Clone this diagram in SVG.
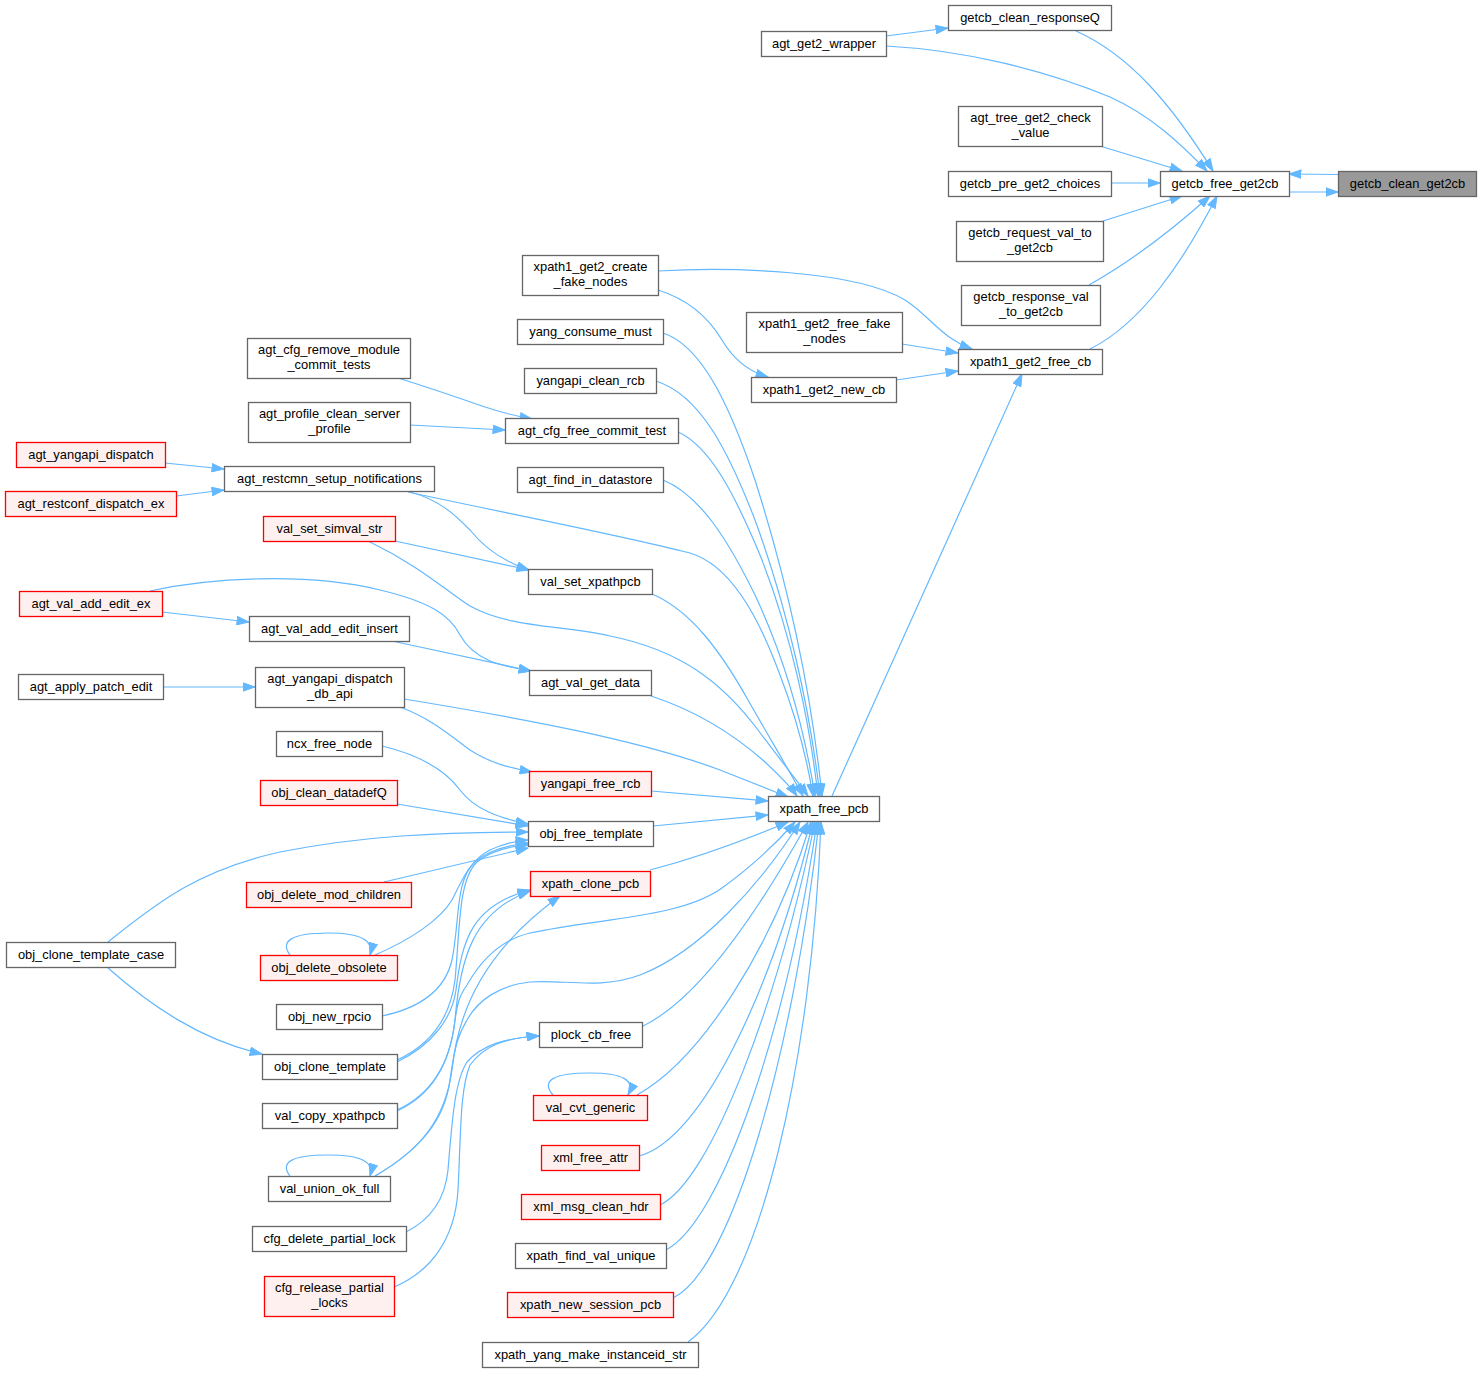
<svg xmlns="http://www.w3.org/2000/svg" width="1481" height="1373" viewBox="0 0 1481 1373">
<style>
.n rect{fill:#ffffff;stroke:#666666;stroke-width:1.3}
.r rect{fill:#fff0f0;stroke:#ff0000;stroke-width:1.3}
.root rect{fill:#999999;stroke:#666666;stroke-width:1.3}
text{font-family:"Liberation Sans",Arial,Helvetica,sans-serif;font-size:12.9px;text-anchor:middle;fill:#000000}
#edges path{fill:none;stroke:#63b8ff;stroke-width:1.2;marker-end:url(#arr)}
</style>
<defs>
<marker id="arr" viewBox="0 0 13 9.4" markerWidth="13" markerHeight="9.4" refX="12.5" refY="4.7" orient="auto" markerUnits="userSpaceOnUse">
<path d="M0.5,0.5 L12.5,4.7 L0.5,8.9 z" fill="#63b8ff" stroke="#63b8ff" stroke-width="1"/>
</marker>
</defs>
<rect width="1481" height="1373" fill="#ffffff"/>
<g id="edges">
<path d="M1289,192 L1338,192"/>
<path d="M1338,174.5 L1289,174"/>
<path d="M1076,31 C1130,55 1172,105 1213,171"/>
<path d="M886,36 L948,28"/>
<path d="M886,46 C960,50 1040,68 1110,97 C1150,115 1180,143 1207,171"/>
<path d="M1100,146 L1182,171"/>
<path d="M1111,183 L1160,183"/>
<path d="M1103,221 L1182,196"/>
<path d="M1089,285 C1130,262 1172,230 1210,196"/>
<path d="M1090,349 C1142,323 1183,262 1217,196"/>
<path d="M658,271 C730,267 855,270 905,300 C930,316 940,337 972,349"/>
<path d="M658,290 C690,300 710,320 722,340 C735,362 750,372 768,377"/>
<path d="M902,344 L958,353"/>
<path d="M896,380 L958,371"/>
<path d="M832,796 L1022,374"/>
<path d="M663,333 C700,345 728,400 755,480 C790,590 812,700 822,796"/>
<path d="M656,381 C700,395 728,450 755,520 C788,610 810,710 820,796"/>
<path d="M678,432 C710,446 735,495 760,555 C792,635 810,725 818,796"/>
<path d="M663,480 C700,495 728,540 755,595 C788,665 806,740 815,796"/>
<path d="M408,492 C500,512 620,535 690,553 C730,565 758,615 780,675 C798,722 808,765 813,796"/>
<path d="M368,541 C420,566 445,590 470,606 C510,628 560,625 610,636 C680,650 722,682 758,730 C782,762 798,782 808,796"/>
<path d="M652,594 C690,610 720,650 748,700 C772,742 790,772 803,796"/>
<path d="M651,696 C700,712 738,738 765,762 C780,776 790,786 797,796"/>
<path d="M404,699 C520,718 640,740 720,770 C750,782 770,790 788,797"/>
<path d="M651,791 L768,801"/>
<path d="M653,826 L768,815"/>
<path d="M650,870 C700,857 750,838 788,822"/>
<path d="M641,1027 C700,1000 762,905 808,822"/>
<path d="M637,1095 C700,1060 772,950 811,822"/>
<path d="M639,1156 C702,1140 772,990 813,822"/>
<path d="M660,1205 C712,1180 778,1000 815,822"/>
<path d="M666,1250 C722,1220 786,1030 817,822"/>
<path d="M673,1298 C732,1270 794,1050 819,822"/>
<path d="M688,1342 C760,1290 812,1060 821,822"/>
<path d="M397,1111 C430,1096 450,1066 455,1020 C458,1000 460,995 467,985 C480,962 500,940 530,933 C600,918 680,918 722,888 C752,866 775,845 795,822"/>
<path d="M375,1176 C420,1150 445,1120 450,1080 C455,1045 458,1035 467,1020 C478,1000 500,985 530,982 C562,979 600,990 640,975 C700,952 760,885 800,822"/>
<path d="M398,378 C430,388 462,399 482,406 C502,413 516,416 532,419"/>
<path d="M410,425 L505,430"/>
<path d="M165,463 L224,469"/>
<path d="M176,496 L224,490"/>
<path d="M410,492 C440,500 455,515 470,530 C486,550 505,562 529,570"/>
<path d="M395,541 L529,570"/>
<path d="M162,612 L249,622"/>
<path d="M150,591 C210,578 305,572 380,590 C430,602 450,615 460,635 C474,660 500,666 531,671"/>
<path d="M392,641 L531,671"/>
<path d="M163,687 L255,687"/>
<path d="M400,707 C430,718 450,735 470,750 C490,763 510,768 532,772"/>
<path d="M382,746 C420,755 445,770 460,790 C475,810 500,818 528,824"/>
<path d="M397,804 L528,826"/>
<path d="M108,942 C160,900 200,870 280,852 C360,836 440,832 528,832"/>
<path d="M108,968 C150,1005 200,1040 262,1054"/>
<path d="M384,882 L528,848"/>
<path d="M290,955 C280,942 290,933 328,933 C362,933 374,941 370,955"/>
<path d="M375,955 C410,940 440,920 452,900 C462,880 470,860 490,850 C505,843 515,841 528,840"/>
<path d="M382,1016 C420,1008 445,990 452,960 C460,920 455,880 475,862 C490,849 510,845 528,843"/>
<path d="M397,1060 C430,1045 450,1020 455,980 C460,930 458,880 477,862 C492,850 510,846 528,845"/>
<path d="M397,1062 C430,1046 452,1020 456,990 C462,940 472,905 530,890"/>
<path d="M397,1110 C430,1095 450,1065 455,1020 C460,960 472,912 530,891"/>
<path d="M290,1176 C280,1163 290,1155 328,1155 C362,1155 374,1162 370,1176"/>
<path d="M375,1176 C420,1150 445,1120 452,1070 C458,1010 485,950 560,896"/>
<path d="M406,1232 C430,1220 445,1200 448,1170 C452,1120 455,1080 467,1062 C482,1045 505,1038 539,1036"/>
<path d="M394,1287 C430,1272 455,1240 458,1190 C461,1130 460,1090 470,1065 C485,1045 505,1038 539,1036"/>
<path d="M553,1095 C540,1080 555,1073 590,1073 C622,1073 636,1080 628,1095"/>
</g>
<g id="node_getcb_clean_get2cb" class="root"><rect x="1338.5" y="171.5" width="138" height="25"/><text x="1407.5" y="187.5">getcb_clean_get2cb</text></g>
<g id="node_getcb_free_get2cb" class="n"><rect x="1160.5" y="171.5" width="129" height="25"/><text x="1225" y="187.5">getcb_free_get2cb</text></g>
<g id="node_getcb_clean_responseQ" class="n"><rect x="948.5" y="5.5" width="163" height="25"/><text x="1030" y="21.5">getcb_clean_responseQ</text></g>
<g id="node_agt_tree_get2_check_value" class="n"><rect x="958.5" y="106.5" width="144" height="40"/><text x="1030.5" y="122">agt_tree_get2_check</text><text x="1030.5" y="137">_value</text></g>
<g id="node_getcb_pre_get2_choices" class="n"><rect x="948.5" y="171.5" width="163" height="25"/><text x="1030" y="187.5">getcb_pre_get2_choices</text></g>
<g id="node_getcb_request_val_to_get2cb" class="n"><rect x="956.5" y="221.5" width="147" height="40"/><text x="1030" y="237">getcb_request_val_to</text><text x="1030" y="252">_get2cb</text></g>
<g id="node_getcb_response_val_to_get2cb" class="n"><rect x="961.5" y="285.5" width="139" height="40"/><text x="1031" y="301">getcb_response_val</text><text x="1031" y="316">_to_get2cb</text></g>
<g id="node_xpath1_get2_free_cb" class="n"><rect x="958.5" y="349.5" width="144" height="25"/><text x="1030.5" y="365.5">xpath1_get2_free_cb</text></g>
<g id="node_agt_get2_wrapper" class="n"><rect x="761.5" y="31.5" width="125" height="25"/><text x="824" y="47.5">agt_get2_wrapper</text></g>
<g id="node_xpath1_get2_free_fake_nodes" class="n"><rect x="746.5" y="312.5" width="156" height="40"/><text x="824.5" y="328">xpath1_get2_free_fake</text><text x="824.5" y="343">_nodes</text></g>
<g id="node_xpath1_get2_new_cb" class="n"><rect x="751.5" y="377.5" width="145" height="25"/><text x="824" y="393.5">xpath1_get2_new_cb</text></g>
<g id="node_xpath_free_pcb" class="n"><rect x="768.5" y="796.5" width="111" height="25"/><text x="824" y="812.5">xpath_free_pcb</text></g>
<g id="node_xpath1_get2_create_fake_nodes" class="n"><rect x="522.5" y="255.5" width="136" height="40"/><text x="590.5" y="271">xpath1_get2_create</text><text x="590.5" y="286">_fake_nodes</text></g>
<g id="node_yang_consume_must" class="n"><rect x="517.5" y="319.5" width="146" height="25"/><text x="590.5" y="335.5">yang_consume_must</text></g>
<g id="node_yangapi_clean_rcb" class="n"><rect x="524.5" y="368.5" width="132" height="25"/><text x="590.5" y="384.5">yangapi_clean_rcb</text></g>
<g id="node_agt_cfg_free_commit_test" class="n"><rect x="505.5" y="418.5" width="173" height="25"/><text x="592" y="434.5">agt_cfg_free_commit_test</text></g>
<g id="node_agt_find_in_datastore" class="n"><rect x="517.5" y="467.5" width="146" height="25"/><text x="590.5" y="483.5">agt_find_in_datastore</text></g>
<g id="node_val_set_xpathpcb" class="n"><rect x="528.5" y="569.5" width="124" height="25"/><text x="590.5" y="585.5">val_set_xpathpcb</text></g>
<g id="node_agt_val_get_data" class="n"><rect x="529.5" y="670.5" width="122" height="25"/><text x="590.5" y="686.5">agt_val_get_data</text></g>
<g id="node_yangapi_free_rcb" class="r"><rect x="529.5" y="771.5" width="122" height="25"/><text x="590.5" y="787.5">yangapi_free_rcb</text></g>
<g id="node_obj_free_template" class="n"><rect x="528.5" y="821.5" width="125" height="25"/><text x="591" y="837.5">obj_free_template</text></g>
<g id="node_xpath_clone_pcb" class="r"><rect x="530.5" y="871.5" width="120" height="25"/><text x="590.5" y="887.5">xpath_clone_pcb</text></g>
<g id="node_plock_cb_free" class="n"><rect x="539.5" y="1022.5" width="103" height="25"/><text x="591" y="1038.5">plock_cb_free</text></g>
<g id="node_val_cvt_generic" class="r"><rect x="533.5" y="1095.5" width="114" height="25"/><text x="590.5" y="1111.5">val_cvt_generic</text></g>
<g id="node_xml_free_attr" class="r"><rect x="541.5" y="1145.5" width="98" height="25"/><text x="590.5" y="1161.5">xml_free_attr</text></g>
<g id="node_xml_msg_clean_hdr" class="r"><rect x="521.5" y="1194.5" width="139" height="25"/><text x="591" y="1210.5">xml_msg_clean_hdr</text></g>
<g id="node_xpath_find_val_unique" class="n"><rect x="515.5" y="1243.5" width="151" height="25"/><text x="591" y="1259.5">xpath_find_val_unique</text></g>
<g id="node_xpath_new_session_pcb" class="r"><rect x="507.5" y="1292.5" width="166" height="25"/><text x="590.5" y="1308.5">xpath_new_session_pcb</text></g>
<g id="node_xpath_yang_make_instanceid_str" class="n"><rect x="482.5" y="1342.5" width="216" height="25"/><text x="590.5" y="1358.5">xpath_yang_make_instanceid_str</text></g>
<g id="node_agt_cfg_remove_module_commit_tests" class="n"><rect x="247.5" y="338.5" width="163" height="40"/><text x="329" y="354">agt_cfg_remove_module</text><text x="329" y="369">_commit_tests</text></g>
<g id="node_agt_profile_clean_server_profile" class="n"><rect x="248.5" y="402.5" width="162" height="40"/><text x="329.5" y="418">agt_profile_clean_server</text><text x="329.5" y="433">_profile</text></g>
<g id="node_agt_restcmn_setup_notifications" class="n"><rect x="224.5" y="466.5" width="210" height="25"/><text x="329.5" y="482.5">agt_restcmn_setup_notifications</text></g>
<g id="node_val_set_simval_str" class="r"><rect x="263.5" y="516.5" width="132" height="25"/><text x="329.5" y="532.5">val_set_simval_str</text></g>
<g id="node_agt_val_add_edit_insert" class="n"><rect x="249.5" y="616.5" width="160" height="25"/><text x="329.5" y="632.5">agt_val_add_edit_insert</text></g>
<g id="node_agt_yangapi_dispatch_db_api" class="n"><rect x="255.5" y="667.5" width="149" height="40"/><text x="330" y="683">agt_yangapi_dispatch</text><text x="330" y="698">_db_api</text></g>
<g id="node_ncx_free_node" class="n"><rect x="276.5" y="731.5" width="106" height="25"/><text x="329.5" y="747.5">ncx_free_node</text></g>
<g id="node_obj_clean_datadefQ" class="r"><rect x="260.5" y="780.5" width="137" height="25"/><text x="329" y="796.5">obj_clean_datadefQ</text></g>
<g id="node_obj_delete_mod_children" class="r"><rect x="246.5" y="882.5" width="165" height="25"/><text x="329" y="898.5">obj_delete_mod_children</text></g>
<g id="node_obj_delete_obsolete" class="r"><rect x="260.5" y="955.5" width="137" height="25"/><text x="329" y="971.5">obj_delete_obsolete</text></g>
<g id="node_obj_new_rpcio" class="n"><rect x="276.5" y="1004.5" width="106" height="25"/><text x="329.5" y="1020.5">obj_new_rpcio</text></g>
<g id="node_obj_clone_template" class="n"><rect x="262.5" y="1054.5" width="135" height="25"/><text x="330" y="1070.5">obj_clone_template</text></g>
<g id="node_val_copy_xpathpcb" class="n"><rect x="262.5" y="1103.5" width="135" height="25"/><text x="330" y="1119.5">val_copy_xpathpcb</text></g>
<g id="node_val_union_ok_full" class="n"><rect x="268.5" y="1176.5" width="122" height="25"/><text x="329.5" y="1192.5">val_union_ok_full</text></g>
<g id="node_cfg_delete_partial_lock" class="n"><rect x="252.5" y="1226.5" width="154" height="25"/><text x="329.5" y="1242.5">cfg_delete_partial_lock</text></g>
<g id="node_cfg_release_partial_locks" class="r"><rect x="264.5" y="1276.5" width="130" height="40"/><text x="329.5" y="1292">cfg_release_partial</text><text x="329.5" y="1307">_locks</text></g>
<g id="node_agt_yangapi_dispatch" class="r"><rect x="16.5" y="442.5" width="149" height="25"/><text x="91" y="458.5">agt_yangapi_dispatch</text></g>
<g id="node_agt_restconf_dispatch_ex" class="r"><rect x="5.5" y="491.5" width="171" height="25"/><text x="91" y="507.5">agt_restconf_dispatch_ex</text></g>
<g id="node_agt_val_add_edit_ex" class="r"><rect x="19.5" y="591.5" width="143" height="25"/><text x="91" y="607.5">agt_val_add_edit_ex</text></g>
<g id="node_agt_apply_patch_edit" class="n"><rect x="18.5" y="674.5" width="145" height="25"/><text x="91" y="690.5">agt_apply_patch_edit</text></g>
<g id="node_obj_clone_template_case" class="n"><rect x="6.5" y="942.5" width="169" height="25"/><text x="91" y="958.5">obj_clone_template_case</text></g>
</svg>
